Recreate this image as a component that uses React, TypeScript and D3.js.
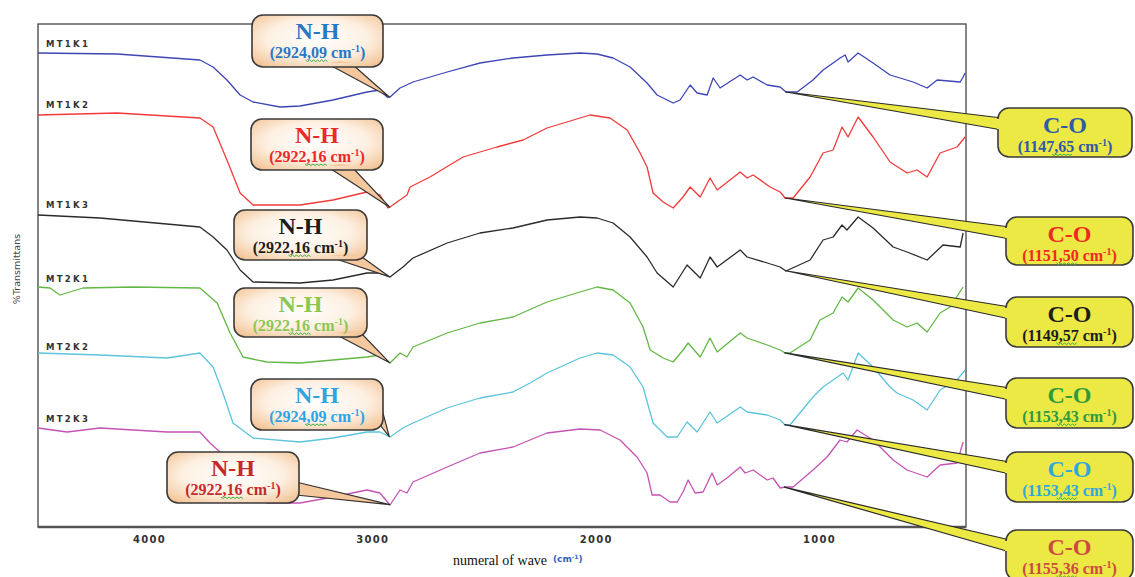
import { useEffect, useRef } from 'react'
import * as d3 from 'd3'

const W = 1135
const H = 577

// tick labels on the wave axis
const waveTicks = [4000, 3000, 2000, 1000]

const sampleNames = ['MT1K1', 'MT1K2', 'MT1K3', 'MT2K1', 'MT2K2', 'MT2K3']
const lineColors = ['#3d46b4', '#f23a3a', '#2b2b2b', '#62b844', '#5cc4dc', '#c454b4']

// [wave number cm-1, transmittance (arbitrary, stacked)]
const mt1k1 = [
  [4497, 474], [4143, 473], [3772, 467], [3713, 460], [3651, 447], [3592, 432], [3534, 425],
  [3413, 420], [3324, 421], [3176, 427], [3024, 435], [2966, 437], [2934, 430], [2921, 430],
  [2876, 439], [2818, 445], [2665, 455], [2518, 464], [2370, 469], [2218, 472], [2070, 474],
  [1994, 473], [1922, 469], [1846, 460], [1770, 444], [1725, 432], [1653, 424], [1622, 427],
  [1577, 442], [1546, 434], [1501, 432], [1474, 449], [1443, 439], [1353, 452], [1322, 447],
  [1295, 450], [1232, 442], [1174, 440], [1148, 435], [1098, 435], [1027, 447], [982, 457],
  [937, 464], [906, 469], [883, 472], [870, 465], [825, 474], [758, 464], [682, 452],
  [637, 449], [579, 445], [516, 439], [471, 447], [368, 445], [355, 450], [346, 454],
]
const mt1k2 = [
  [4497, 412], [4143, 414], [3772, 409], [3713, 400], [3651, 367], [3592, 334], [3534, 322],
  [3324, 322], [3176, 327], [3024, 335], [2966, 332], [2930, 319], [2921, 320], [2845, 332],
  [2831, 340], [2742, 350], [2594, 370], [2442, 380], [2325, 387], [2218, 399], [2070, 409],
  [2025, 412], [1936, 409], [1859, 397], [1801, 374], [1770, 360], [1743, 334], [1698, 325],
  [1653, 319], [1609, 330], [1577, 340], [1532, 330], [1488, 349], [1456, 337], [1353, 355],
  [1322, 349], [1295, 352], [1219, 340], [1174, 335], [1152, 329], [1116, 329], [1040, 350],
  [982, 374], [937, 377], [897, 400], [870, 390], [825, 410], [758, 390], [682, 365],
  [606, 354], [561, 357], [516, 350], [458, 374], [382, 380], [346, 390],
]
const mt1k3 = [
  [4497, 312], [4219, 309], [3772, 300], [3713, 290], [3651, 277], [3592, 257], [3534, 245],
  [3324, 244], [3176, 247], [3024, 254], [2966, 254], [2921, 250], [2863, 260], [2818, 269],
  [2665, 284], [2518, 294], [2370, 299], [2218, 307], [2070, 310], [1994, 309], [1922, 304],
  [1846, 290], [1770, 270], [1725, 254], [1653, 240], [1591, 262], [1532, 249], [1488, 270],
  [1456, 260], [1353, 277], [1322, 270], [1232, 264], [1174, 260], [1148, 256], [1040, 267],
  [982, 287], [937, 290], [897, 302], [875, 297], [825, 310], [758, 299], [668, 280],
  [606, 275], [516, 267], [445, 282], [368, 280], [355, 294],
]
const mt2k1 = [
  [4497, 240], [4443, 239], [4399, 232], [4296, 239], [4072, 240], [3772, 239], [3695, 224],
  [3637, 194], [3579, 170], [3472, 165], [3324, 164], [3176, 167], [3024, 170], [2966, 172],
  [2921, 164], [2876, 174], [2845, 170], [2818, 180], [2665, 194], [2518, 204], [2370, 210],
  [2218, 225], [2070, 235], [1994, 240], [1922, 237], [1846, 224], [1788, 200], [1756, 177],
  [1698, 169], [1653, 165], [1609, 177], [1586, 184], [1532, 170], [1488, 189], [1456, 175],
  [1353, 194], [1322, 189], [1232, 182], [1174, 177], [1152, 174], [1130, 174], [1040, 187],
  [996, 207], [937, 214], [897, 230], [870, 225], [825, 239], [758, 227], [668, 207],
  [606, 200], [561, 204], [516, 195], [458, 214], [413, 220], [355, 240],
]
const mt2k2 = [
  [4497, 174], [4219, 172], [3919, 169], [3772, 174], [3713, 160], [3669, 134], [3624, 104],
  [3534, 89], [3324, 85], [3176, 89], [3024, 95], [2966, 95], [2921, 90], [2863, 99],
  [2818, 104], [2665, 119], [2518, 129], [2370, 135], [2294, 144], [2218, 154], [2070, 169],
  [1994, 174], [1922, 172], [1846, 160], [1788, 140], [1743, 104], [1680, 90], [1635, 90],
  [1591, 105], [1546, 95], [1488, 115], [1456, 104], [1353, 120], [1322, 115], [1232, 112],
  [1174, 107], [1152, 102], [1130, 102], [1027, 130], [982, 140], [892, 154], [870, 147],
  [825, 174], [758, 160], [682, 140], [651, 134], [579, 127], [516, 117], [458, 137],
  [382, 147], [346, 157],
]
const mt2k3 = [
  [4497, 99], [4367, 95], [4219, 99], [3919, 95], [3772, 95], [3727, 84], [3682, 75],
  [3624, 49], [3548, 29], [3472, 24], [3324, 24], [3176, 30], [3024, 37], [2966, 34],
  [2921, 22], [2876, 37], [2845, 34], [2818, 45], [2665, 60], [2518, 74], [2370, 80],
  [2294, 87], [2218, 94], [2070, 98], [1980, 97], [1891, 87], [1815, 70], [1770, 54],
  [1747, 32], [1712, 32], [1667, 25], [1635, 25], [1609, 35], [1586, 47], [1555, 34],
  [1519, 35], [1479, 54], [1456, 42], [1412, 49], [1353, 60], [1331, 54], [1295, 57],
  [1232, 47], [1206, 49], [1174, 39], [1152, 40], [1116, 40], [1027, 57], [964, 70],
  [906, 87], [875, 85], [830, 97], [758, 87], [668, 67], [606, 57], [516, 50],
  [458, 62], [382, 64], [355, 85],
]
const allSeries = [mt1k1, mt1k2, mt1k3, mt2k1, mt2k2, mt2k3]

// peak annotations
const nhPeaks = [2924.09, 2922.16, 2922.16, 2922.16, 2924.09, 2922.16]
const coPeaks = [1147.65, 1151.5, 1149.57, 1153.43, 1153.43, 1155.36]
const nhColors = ['#2a78c4', '#ea2a2a', '#1c1c1c', '#8cc653', '#2ea4e2', '#c42a2a']
const coColors = ['#2f5aa8', '#f02a20', '#1c1c1c', '#2e9a3e', '#2ea8dc', '#cc4a40']

// callout box layout (x, y, w, h) and wedge base points
const nhBoxes = [
  { x: 252, y: 15, w: 131, h: 52, base: [[328, 64], [352, 64]] },
  { x: 251, y: 119, w: 132, h: 51, base: [[328, 167], [352, 167]] },
  { x: 234, y: 210, w: 133, h: 50, base: [[330, 257], [362, 257]] },
  { x: 234, y: 288, w: 133, h: 49, base: [[335, 334], [362, 334]] },
  { x: 251, y: 379, w: 132, h: 51, base: [[380, 402], [380, 425]] },
  { x: 167, y: 452, w: 132, h: 51, base: [[296, 482], [296, 495]] },
]
const coBoxes = [
  { x: 998, y: 108, w: 134, h: 49 },
  { x: 1006, y: 217, w: 127, h: 48 },
  { x: 1006, y: 297, w: 127, h: 50 },
  { x: 1006, y: 378, w: 127, h: 50 },
  { x: 1006, y: 452, w: 127, h: 50 },
  { x: 1006, y: 530, w: 127, h: 50 },
]

const plot = { left: 38, right: 966, top: 24, bottom: 527 }
const serif = "'Liberation Serif', 'DejaVu Serif', serif"
const sans = "'DejaVu Sans', 'Liberation Sans', sans-serif"

const valueAt = (s: number[][], w: number) => {
  for (let i = 0; i < s.length - 1; i++) {
    const [x0, y0] = s[i]
    const [x1, y1] = s[i + 1]
    if (w <= x0 && w >= x1) return y0 + ((w - x0) / (x1 - x0)) * (y1 - y0)
  }
  return s[s.length - 1][1]
}

const fmt = (v: number) => v.toFixed(2).replace('.', ',')

// little spell-check wave under the decimals
const squiggle = (x0: number, x1: number, yy: number) => {
  let d = `M${x0},${yy}`
  for (let xx = x0 + 2, k = 0; xx <= x1; xx += 2, k++) d += ` L${xx},${yy + (k % 2 === 0 ? 1.5 : 0)}`
  return d
}

const App = () => {
  const axisRef = useRef<SVGGElement>(null)

  const x = d3.scaleLinear().domain([4497, 342]).range([plot.left, plot.right])
  const y = d3.scaleLinear().domain([0, 503]).range([plot.bottom, plot.top])
  const line = d3.line<number[]>().x(d => x(d[0])).y(d => y(d[1]))

  useEffect(() => {
    const g = d3.select(axisRef.current)
    g.selectAll('*').remove()
    g.call(d3.axisBottom(x).tickValues(waveTicks).tickSize(0).tickPadding(9).tickFormat(d => String(d)))
    g.select('.domain').remove()
    g.selectAll('text')
      .attr('font-family', sans)
      .attr('font-weight', 'bold')
      .attr('font-size', 10)
      .attr('letter-spacing', 1.3)
      .attr('fill', '#333')
  }, [])

  const labelY = [47, 108, 208, 282, 350, 422]

  return (
    <svg width={W} height={H} style={{ position: 'absolute', left: 0, top: 0, background: '#fff' }}>
      <defs>
        <radialGradient id="nhFill" cx="50%" cy="45%" r="70%">
          <stop offset="0%" stopColor="#ffffff" />
          <stop offset="55%" stopColor="#fdf0e2" />
          <stop offset="100%" stopColor="#f2c08f" />
        </radialGradient>
      </defs>

      {/* frame */}
      <rect x={plot.left} y={plot.top} width={plot.right - plot.left} height={plot.bottom - plot.top}
        fill="none" stroke="#444" strokeWidth={1.3} />
      <line x1={plot.left} x2={plot.right} y1={plot.bottom} y2={plot.bottom} stroke="#555" strokeWidth={2.5} />

      <g ref={axisRef} transform={`translate(0,${plot.bottom})`} />

      {allSeries.map((s, i) => (
        <path key={i} d={line(s) || ''} fill="none" stroke={lineColors[i]} strokeWidth={1.3} strokeLinejoin="round" />
      ))}

      {sampleNames.map((n, i) => (
        <text key={n} x={46} y={labelY[i]} fontFamily={sans} fontWeight="bold"
          fontSize={8.5} letterSpacing={2.3} fill="#333">{n}</text>
      ))}

      {/* N-H callouts */}
      {nhBoxes.map((b, i) => {
        const tx = x(nhPeaks[i])
        const ty = y(valueAt(allSeries[i], nhPeaks[i]))
        const cx = b.x + b.w / 2
        return (
          <g key={'nh' + i}>
            <polygon points={`${b.base[0][0]},${b.base[0][1]} ${tx},${ty} ${b.base[1][0]},${b.base[1][1]}`}
              fill="#f5c79c" stroke="#333" strokeWidth={1.2} strokeLinejoin="round" />
            <rect x={b.x} y={b.y} width={b.w} height={b.h} rx={11} fill="url(#nhFill)" stroke="#3a3a3a" strokeWidth={1.6} />
            <polygon points={`${b.base[0][0]},${b.base[0][1] - 1} ${b.base[1][0]},${b.base[1][1] - 1} ${(b.base[0][0] + b.base[1][0]) / 2},${(b.base[0][1] + b.base[1][1]) / 2 - 3}`}
              fill="#f5c79c" stroke="none" />
            <text x={cx} y={b.y + 24} textAnchor="middle" fontFamily={serif} fontWeight="bold"
              fontSize={24} fill={nhColors[i]}>N-H</text>
            <text x={cx} y={b.y + 43} textAnchor="middle" fontFamily={serif} fontWeight="bold"
              fontSize={16} fill={nhColors[i]}>
              ({fmt(nhPeaks[i])} cm<tspan fontSize={10} dy={-6}>-1</tspan><tspan dy={6}>)</tspan>
            </text>
            <path d={squiggle(cx - 12, cx + 10, b.y + 45)} fill="none" stroke="#3cb043" strokeWidth={1} />
          </g>
        )
      })}

      {/* C-O callouts */}
      {coBoxes.map((b, i) => {
        const tx = x(coPeaks[i])
        const ty = y(valueAt(allSeries[i], coPeaks[i]))
        const cx = b.x + b.w / 2
        return (
          <g key={'co' + i}>
            <polygon points={`${b.x + 4},${b.y + 10} ${tx},${ty} ${b.x + 4},${b.y + 22}`}
              fill="#ece844" stroke="#2a2a2a" strokeWidth={1.2} strokeLinejoin="round" />
            <rect x={b.x} y={b.y} width={b.w} height={b.h} rx={11} fill="#ece844" stroke="#3a3a3a" strokeWidth={1.6} />
            <rect x={b.x - 1} y={b.y + 11} width={6} height={10} fill="#ece844" />
            <text x={cx} y={b.y + 25} textAnchor="middle" fontFamily={serif} fontWeight="bold"
              fontSize={24} fill={coColors[i]}>C-O</text>
            <text x={cx} y={b.y + 44} textAnchor="middle" fontFamily={serif} fontWeight="bold"
              fontSize={16} fill={coColors[i]}>
              ({fmt(coPeaks[i])} cm<tspan fontSize={10} dy={-6}>-1</tspan><tspan dy={6}>)</tspan>
            </text>
            <path d={squiggle(cx - 13, cx + 8, b.y + 46)} fill="none" stroke="#3cb043" strokeWidth={1} />
          </g>
        )
      })}

      {/* axis titles */}
      <text x={453} y={565} fontFamily={serif} fontSize={14} fill="#111">numeral of wave</text>
      <text x={553} y={562} fontFamily={sans} fontWeight="bold" fontSize={9} fill="#2a62c0">
        (cm<tspan fontSize={6} dy={-3}>-1</tspan><tspan dy={3}>)</tspan>
      </text>
      <text transform="translate(20,269) rotate(-90)" textAnchor="middle" fontFamily={sans}
        fontSize={9.5} fill="#444">%Transmittans</text>
    </svg>
  )
}

export default App
